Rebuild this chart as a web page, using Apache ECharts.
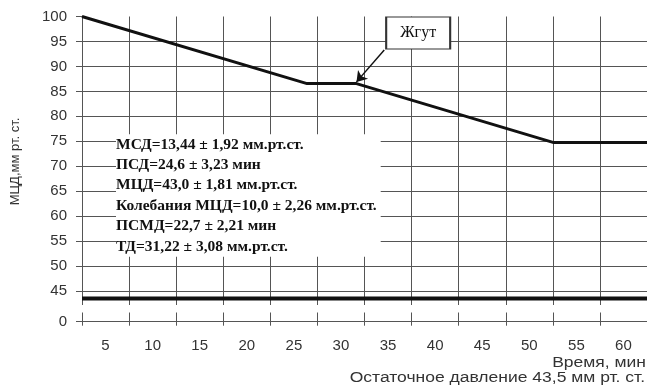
<!DOCTYPE html>
<html>
<head>
<meta charset="utf-8">
<script src="https://cdn.jsdelivr.net/npm/echarts@6/dist/echarts.min.js"></script>
<style>
  html, body { margin: 0; padding: 0; background: #fff; }
  #chart { width: 647px; height: 387px; }
</style>
</head>
<body>
<div id="chart"></div>
<script>
// Mean arterial pressure (МЦД) over time during the procedure
const timeMin = [2.5, 26.4, 31.65, 52.6, 62.5];
const mcdValues = [100, 86.56, 86.56, 74.74, 74.74];

// Residual pressure level, мм рт. ст.
const residualPressure = 43.5;
const residualTime = [2.5, 62.5];

// Tick labels
const xLabels = [5, 10, 15, 20, 25, 30, 35, 40, 45, 50, 55, 60];
const xGrid = [2.5, 7.5, 12.5, 17.5, 22.5, 27.5, 32.5, 37.5, 42.5, 47.5, 52.5, 57.5, 62.5];
const yLabels = [45, 50, 55, 60, 65, 70, 75, 80, 85, 90, 95, 100];
const yGrid = [45, 50, 55, 60, 65, 70, 75, 80, 85, 90, 95];

// Tourniquet annotation: label anchor and arrow from it to the plateau end
const tourniquetLabel = [38.2, 96.7];
const tourniquetArrowFrom = [34.6, 93.3];
const tourniquetArrowTo = [31.65, 86.9];

// Summary statistics
const statsLines = [
  'МСД=13,44 ± 1,92 мм.рт.ст.',
  'ПСД=24,6 ± 3,23 мин',
  'МЦД=43,0 ± 1,81 мм.рт.ст.',
  'Колебания МЦД=10,0 ± 2,26 мм.рт.ст.',
  'ПСМД=22,7 ± 2,21 мин',
  'ТД=31,22 ± 3,08 мм.рт.ст.'
];

// The value axis is broken below 45: its lowest point carries the "0" label
const Y_BOTTOM = 38.85;
const Y_TOP = 100;
const X_MIN = 2.5;
const X_MAX = 62.5;
const BREAK_BAND = [40.9, 42.0];

const sans = '"Liberation Sans", Arial, sans-serif';
const serif = '"Liberation Serif", "Times New Roman", serif';
const gridColor = '#555';
const textWiden = 1.25;

const chart = echarts.init(document.getElementById('chart'), null, { renderer: 'canvas' });

chart.setOption({
  animation: false,
  backgroundColor: '#fff',
  grid: { left: 82, top: 16.5, right: -3.1, bottom: 65.3, containLabel: false },
  xAxis: {
    type: 'value',
    min: X_MIN,
    max: X_MAX,
    axisLine: { show: true, lineStyle: { color: gridColor, width: 1 } },
    axisTick: { show: true, length: 4, customValues: xGrid, lineStyle: { color: gridColor } },
    splitLine: { show: true, lineStyle: { color: gridColor, width: 1 } },
    axisLabel: {
      customValues: xLabels,
      margin: 17,
      color: '#333',
      fontSize: 15,
      fontFamily: sans
    }
  },
  yAxis: [
    {
      type: 'value',
      min: Y_BOTTOM,
      max: Y_TOP,
      axisLine: { show: false },
      axisTick: { show: true, length: 6, customValues: [Y_BOTTOM].concat(yLabels), lineStyle: { color: gridColor } },
      splitLine: { show: false },
      axisLabel: {
        customValues: [Y_BOTTOM].concat(yLabels),
        margin: 15,
        color: '#333',
        fontSize: 15,
        fontFamily: sans,
        formatter: v => (Math.abs(v - Y_BOTTOM) < 0.01 ? '0' : String(v))
      }
    },
    {
      type: 'value',
      min: Y_BOTTOM,
      max: Y_TOP,
      axisLine: { show: false },
      axisTick: { show: false, customValues: yGrid },
      axisLabel: { show: false, customValues: yGrid },
      splitLine: { show: true, lineStyle: { color: gridColor, width: 1 } }
    }
  ],
  series: [
    {
      name: 'Остаточное давление',
      type: 'line',
      yAxisIndex: 0,
      clip: false,
      symbol: 'none',
      data: residualTime.map(t => [t, residualPressure]),
      lineStyle: { color: '#111', width: 4 },
      // white band marking the break in the value axis
      markArea: {
        silent: true,
        itemStyle: { color: '#fff', borderColor: '#fff', borderWidth: 2 },
        data: [[
          { xAxis: X_MIN, yAxis: BREAK_BAND[0] },
          { xAxis: X_MAX, yAxis: BREAK_BAND[1] }
        ]]
      }
    },
    {
      name: 'МЦД',
      type: 'line',
      yAxisIndex: 0,
      symbol: 'none',
      data: timeMin.map((t, i) => [t, mcdValues[i]]),
      lineStyle: { color: '#111', width: 3 },
      markLine: {
        silent: true,
        symbol: ['none', 'arrow'],
        symbolSize: 10,
        label: { show: false },
        lineStyle: { color: '#111', width: 1.5, type: 'solid' },
        data: [[
          { coord: tourniquetArrowFrom },
          { coord: tourniquetArrowTo }
        ]]
      },
      markPoint: {
        silent: true,
        symbol: 'rect',
        symbolSize: [64, 32],
        itemStyle: { color: '#fff', borderColor: '#333', borderWidth: 1.5 },
        label: {
          show: true,
          position: 'inside',
          formatter: 'Жгут',
          color: '#111',
          fontSize: 16,
          fontFamily: serif
        },
        data: [{ coord: tourniquetLabel }]
      }
    }
  ],
  graphic: [
    {
      type: 'text',
      left: 116,
      top: 134.3,
      z: 10,
      style: {
        text: statsLines.join('\n'),
        font: 'bold 15.5px ' + serif,
        fill: '#111',
        lineHeight: 20.4,
        backgroundColor: '#fff',
        padding: [0, 4, 0, 0]
      }
    },
    {
      type: 'text',
      x: 15,
      y: 161.5,
      rotation: Math.PI / 2,
      style: {
        text: 'МЦД,мм рт. ст.',
        font: '13px ' + sans,
        fill: '#333',
        align: 'center',
        verticalAlign: 'middle'
      }
    },
    {
      type: 'text',
      x: 646,
      y: 363,
      scaleX: textWiden,
      style: {
        text: 'Время, мин',
        font: '14px ' + sans,
        fill: '#333',
        align: 'right',
        verticalAlign: 'middle'
      }
    },
    {
      type: 'text',
      x: 645,
      y: 378,
      scaleX: textWiden,
      style: {
        text: 'Остаточное давление 43,5 мм рт. ст.',
        font: '14px ' + sans,
        fill: '#333',
        align: 'right',
        verticalAlign: 'middle'
      }
    }
  ]
});
</script>
</body>
</html>
